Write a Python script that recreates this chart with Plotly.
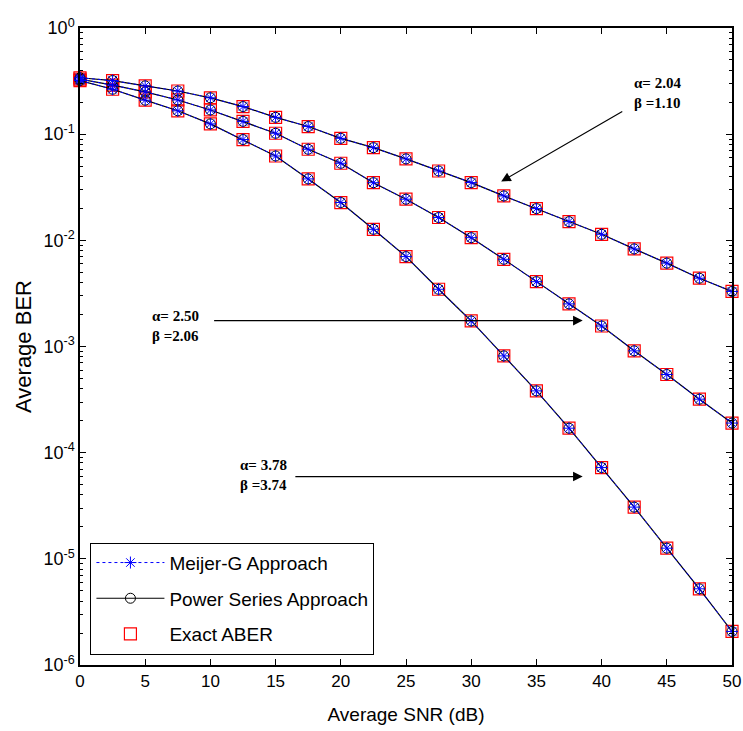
import plotly.graph_objects as go

# ---------------- data ----------------
snr_db = [0, 2.5, 5, 7.5, 10, 12.5, 15, 17.5, 20, 22.5, 25,
          27.5, 30, 32.5, 35, 37.5, 40, 42.5, 45, 47.5, 50]

# alpha = 2.04, beta = 1.10
ber_a204 = [0.34, 0.32, 0.285, 0.255, 0.22, 0.182, 0.144, 0.118, 0.0914, 0.0746, 0.0585,
            0.045, 0.035, 0.0262, 0.0199, 0.0150, 0.0114, 0.0083, 0.0061, 0.0044, 0.0033]
# alpha = 2.50, beta = 2.06
ber_a250 = [0.33, 0.29, 0.25, 0.21, 0.169, 0.132, 0.102, 0.0721, 0.0532, 0.0349, 0.0244,
            0.0164, 0.0106, 0.00663, 0.00408, 0.00252, 0.00156, 9.1e-4, 5.45e-4, 3.19e-4, 1.9e-4]
# alpha = 3.78, beta = 3.74
ber_a378 = [0.32, 0.265, 0.209, 0.166, 0.125, 0.089, 0.0623, 0.0379, 0.0227, 0.0127, 0.00703,
            0.00346, 0.00174, 8.16e-4, 3.82e-4, 1.70e-4, 7.24e-5, 3.07e-5, 1.26e-5, 5.22e-6, 2.07e-6]

curves = [ber_a204, ber_a250, ber_a378]

x_ticks = [0, 5, 10, 15, 20, 25, 30, 35, 40, 45, 50]
y_exps = [0, -1, -2, -3, -4, -5, -6]
y_tick_text = ["10<sup>%d</sup>" % e for e in y_exps]

labels = [("α= 2.04<br>β =1.10", 42.3, -0.6075),
          ("α= 2.50<br>β =2.06", 5.34, -2.807),
          ("α= 3.78<br>β =3.74", 12.08, -4.215)]
# arrows: (tail x, tail log y, tip x, tip log y)
arrows = [(41.7, -0.779, 32.3, -1.447),
          (10.17, -2.756, 38.55, -2.756),
          (16.4, -4.225, 38.55, -4.225)]

# ---------------- figure ----------------
fig = go.Figure()

# Exact ABER: red squares
for i, c in enumerate(curves):
    fig.add_trace(go.Scatter(
        x=snr_db, y=c, mode="markers", name="Exact ABER",
        legendgroup="ex", showlegend=(i == 0), legendrank=3,
        marker=dict(symbol="square-open", size=12, color="red", line=dict(width=1.2, color="red")),
        cliponaxis=False))

# Power series: black circles, solid line
for i, c in enumerate(curves):
    fig.add_trace(go.Scatter(
        x=snr_db, y=c, mode="lines+markers", name="Power Series Approach",
        legendgroup="ps", showlegend=(i == 0), legendrank=2,
        line=dict(color="black", width=1.2),
        marker=dict(symbol="circle-open", size=10, color="black", line=dict(width=1, color="black")),
        cliponaxis=False))

# Meijer-G: blue asterisks, dotted line
for i, c in enumerate(curves):
    fig.add_trace(go.Scatter(
        x=snr_db, y=c, mode="lines+markers", name="Meijer-G Approach",
        legendgroup="mg", showlegend=(i == 0), legendrank=1,
        line=dict(color="blue", width=1, dash="dot"),
        marker=dict(symbol="asterisk-open", size=10, color="blue", line=dict(width=1, color="blue")),
        cliponaxis=False))

annotations = []
for txt, x, y in labels:
    annotations.append(dict(
        x=x, y=y, xref="x", yref="y", text="<b>%s</b>" % txt, showarrow=False,
        xanchor="left", yanchor="middle", align="left",
        font=dict(family="Liberation Serif, Times New Roman, serif", size=15, color="black")))
for tx, ty, hx, hy in arrows:
    annotations.append(dict(
        x=hx, y=hy, xref="x", yref="y", ax=tx, ay=ty, axref="x", ayref="y",
        text="", showarrow=True, arrowhead=2, arrowsize=1.6, arrowwidth=1.2,
        arrowcolor="black", standoff=0, startstandoff=0))

minor_vals = [k * 10.0 ** e for e in range(-6, 0) for k in range(2, 10)]

fig.update_layout(
    width=743, height=731,
    margin=dict(l=80, r=11, t=28, b=66),
    paper_bgcolor="white", plot_bgcolor="white",
    font=dict(family="Liberation Sans, Arial, sans-serif", size=18, color="black"),
    showlegend=True,
    legend=dict(
        x=0.016, y=0.192, xanchor="left", yanchor="top",
        bgcolor="white", bordercolor="black", borderwidth=1,
        font=dict(family="Liberation Sans, Arial, sans-serif", size=19, color="black"),
        traceorder="grouped", tracegroupgap=8, itemwidth=68),
    annotations=annotations,
)

fig.update_xaxes(
    range=[0, 50], tickmode="array", tickvals=x_ticks,
    ticks="inside", ticklen=6, tickwidth=1, tickcolor="black",
    showline=True, linecolor="black", linewidth=1.5, mirror="ticks",
    showgrid=False, zeroline=False, ticklabeloverflow="allow", automargin=False,
    tickfont=dict(size=17),
    title=dict(text="Average SNR (dB)", font=dict(size=19), standoff=18))

fig.update_yaxes(
    type="log", range=[-6, 0], tickmode="array",
    tickvals=[10.0 ** e for e in y_exps], ticktext=y_tick_text,
    ticks="inside", ticklen=6, tickwidth=1, tickcolor="black",
    showline=True, linecolor="black", linewidth=1.5, mirror="ticks",
    showgrid=False, zeroline=False, ticklabeloverflow="allow", automargin=False,
    tickfont=dict(size=18),
    minor=dict(tickmode="array", tickvals=minor_vals, ticks="inside", ticklen=3,
               tickcolor="black", showgrid=False),
    title=dict(text="Average BER", font=dict(size=22), standoff=6))

fig.write_html("out.html")
